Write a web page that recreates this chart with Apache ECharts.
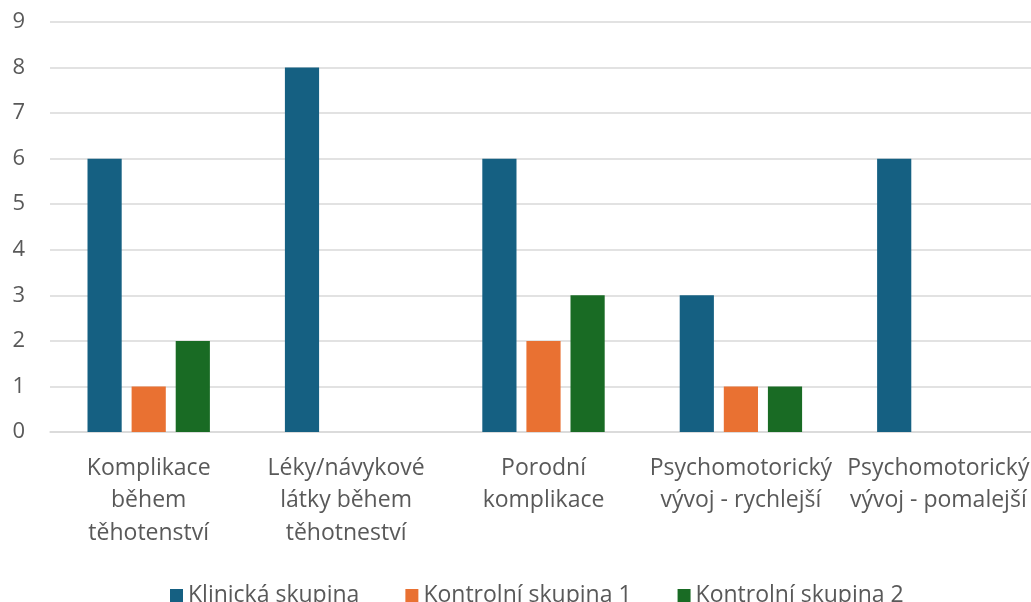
<!DOCTYPE html>
<html><head><meta charset="utf-8">
<script src="https://cdn.jsdelivr.net/npm/echarts@6/dist/echarts.min.js"></script>
<style>html,body{margin:0;padding:0;background:#fff}#c{width:1031px;height:602px}</style>
</head><body><div id="c"></div>
<script>
const categories = ["Komplikace\nběhem\ntěhotenství", "Léky/návykové\nlátky během\ntěhotneství", "Porodní\nkomplikace", "Psychomotorický\nvývoj - rychlejší", "Psychomotorický\nvývoj - pomalejší"];
const seriesNames = ["Klinická skupina", "Kontrolní skupina 1", "Kontrolní skupina 2"];
const klinicka = [6, 8, 6, 3, 6];
const kontrolni1 = [1, 0, 2, 1, 0];
const kontrolni2 = [2, 0, 3, 1, 0];
const colors = ["#156082", "#E97132", "#196B24"];
const font = "Open Sans";
const chart = echarts.init(document.getElementById('c'));
const data = [klinicka, kontrolni1, kontrolni2];
chart.setOption({
  animation: false,
  textStyle: {fontFamily: font},
  grid: {left: 50, width: 987, top: 22, height: 410, containLabel: false, outerBoundsMode: 'none'},
  legend: {
    top: 579, left: 165, itemWidth: 13, itemHeight: 13, itemGap: 46,
    icon: 'rect',
    textStyle: {fontSize: 23, color: '#595959', fontFamily: font},
    data: seriesNames
  },
  xAxis: {
    type: 'category', data: categories,
    axisLine: {show: true, lineStyle: {color: '#d9d9d9', width: 1.5}},
    axisTick: {show: false},
    axisLabel: {fontSize: 23, color: '#595959', lineHeight: 32.5, margin: 20, interval: 0, fontFamily: font, hideOverlap: false}
  },
  yAxis: {
    type: 'value', min: 0, max: 9, interval: 1,
    axisLine: {show: false}, axisTick: {show: false},
    splitLine: {lineStyle: {color: '#d9d9d9', width: 1.5}},
    axisLabel: {fontSize: 22, color: '#595959', margin: 25, fontFamily: font}
  },
  series: seriesNames.map((n, i) => ({
    name: n, type: 'bar', data: data[i],
    itemStyle: {color: colors[i]},
    barGap: '29%', barCategoryGap: '38%'
  }))
});
</script></body></html>
